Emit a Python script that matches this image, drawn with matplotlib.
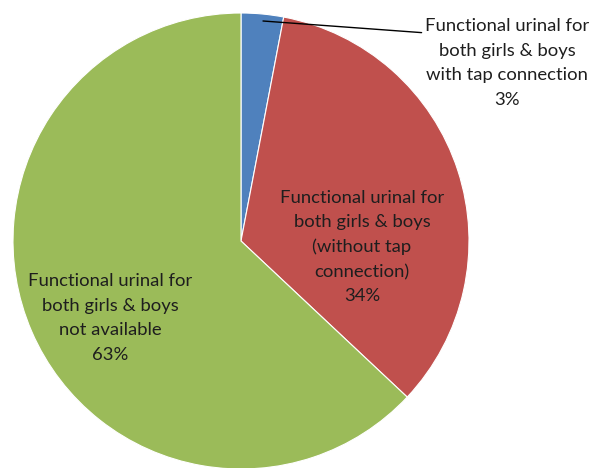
import matplotlib.pyplot as plt

# urinal availability shares (percent)
labels = ["Functional urinal for\nboth girls & boys\nwith tap connection\n3%",
          "Functional urinal for\nboth girls & boys\n(without tap\nconnection)\n34%",
          "Functional urinal for\nboth girls & boys\nnot available\n63%"]
shares = [3, 34, 63]
colors = ["#4F81BD", "#C0504D", "#9BBB59"]

plt.rcParams['font.family'] = ['Lato', 'DejaVu Sans']

W, H = 595, 468
fig = plt.figure(figsize=(W / 100, H / 100), dpi=100)
ax = fig.add_axes([0, 0, 1, 1])

cx, cy, r = 241, H - 241, 228
wedges, _ = ax.pie(shares, colors=colors, startangle=90, counterclock=False,
                   center=(cx, cy), radius=r, frame=True,
                   wedgeprops=dict(edgecolor='white', linewidth=0.8))
ax.set_xlim(0, W)
ax.set_ylim(0, H)
ax.set_aspect('equal')
ax.axis('off')

txt = dict(ha='center', va='center', fontsize=13.3, color='#1e1e1e', linespacing=1.65)

# small slice: label outside with a straight leader line
ax.annotate(labels[0], xy=(263, H - 21), xytext=(507, H - 63),
            arrowprops=dict(arrowstyle='-', color='black', lw=1,
                            shrinkA=0, shrinkB=0, relpos=(-0.02, 0.84)),
            **txt)
ax.text(362, H - 247, labels[1], **txt)
ax.text(110, H - 318, labels[2], **txt)

fig.savefig("out.png", dpi=100)
